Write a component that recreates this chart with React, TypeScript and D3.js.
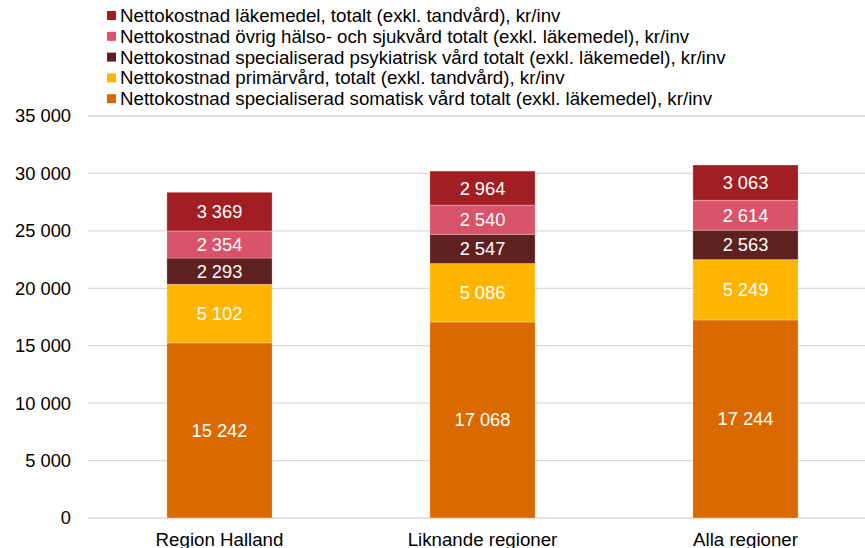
import React from "react";
import * as d3 from "d3";

const categories = ["Region Halland", "Liknande regioner", "Alla regioner"];
const seriesNames = [
  "Nettokostnad specialiserad somatisk vård totalt (exkl. läkemedel), kr/inv",
  "Nettokostnad primärvård, totalt (exkl. tandvård), kr/inv",
  "Nettokostnad specialiserad psykiatrisk vård totalt (exkl. läkemedel), kr/inv",
  "Nettokostnad övrig hälso- och sjukvård totalt (exkl. läkemedel), kr/inv",
  "Nettokostnad läkemedel, totalt (exkl. tandvård), kr/inv",
];
const somatisk = [15242, 17068, 17244];
const primarvard = [5102, 5086, 5249];
const psykiatrisk = [2293, 2547, 2563];
const ovrig = [2354, 2540, 2614];
const lakemedel = [3369, 2964, 3063];
const colors = ["#DA6900", "#FFB500", "#5E2120", "#D9536A", "#A11F22"];
const yTicks = [0, 5000, 10000, 15000, 20000, 25000, 30000, 35000];

const W = 865;
const H = 548;
const margin = { left: 88, right: -12, top: 116, bottom: 30 };

const fmt = (v: number) => {
  const s = String(Math.round(v));
  return s.replace(/\B(?=(\d{3})+(?!\d))/g, " ");
};

export default function App() {
  const seriesValues = [somatisk, primarvard, psykiatrisk, ovrig, lakemedel];
  const rows = categories.map((c, i) => {
    const o: any = { cat: c };
    seriesValues.forEach((s, k) => (o["s" + k] = s[i]));
    return o;
  });
  const keys = seriesValues.map((_, k) => "s" + k);
  const stacked = d3.stack().keys(keys)(rows);

  const x = d3
    .scaleBand()
    .domain(categories)
    .range([margin.left, W - margin.right])
    .paddingInner(0.6)
    .paddingOuter(0.3);
  const y = d3.scaleLinear().domain([0, 35000]).range([518, margin.top]);

  const font = "'Liberation Sans', Arial, sans-serif";
  const legendOrder = [4, 3, 2, 1, 0];

  return (
    <svg
      width={W}
      height={H}
      style={{ position: "absolute", left: 0, top: 0, background: "#fff" }}
      fontFamily={font}
    >
      {yTicks.map((t) => (
        <g key={t}>
          <line x1={margin.left} x2={W} y1={y(t)} y2={y(t)} stroke="#D9D9D9" strokeWidth={1.3} />
          <text x={71} y={y(t)} dy="0.35em" textAnchor="end" fontSize={18.3} fill="#000">
            {fmt(t)}
          </text>
        </g>
      ))}
      {stacked.map((s, k) =>
        s.map((d: any, i: number) => {
          const cat = categories[i];
          const x0 = x(cat)!;
          const y0 = y(d[1]);
          const h = y(d[0]) - y(d[1]);
          return (
            <g key={k + "-" + i}>
              <rect x={x0} y={y0} width={x.bandwidth()} height={h} fill={colors[k]} stroke="#fff" strokeOpacity={0.35} strokeWidth={0.8} />
              <text
                x={x0 + x.bandwidth() / 2}
                y={y0 + h / 2}
                dy="0.35em"
                textAnchor="middle"
                fontSize={18.3}
                fill="#fff"
              >
                {fmt(d[1] - d[0])}
              </text>
            </g>
          );
        })
      )}
      {categories.map((c) => (
        <text key={c} x={x(c)! + x.bandwidth() / 2} y={546} textAnchor="middle" fontSize={18.7} fill="#000">
          {c}
        </text>
      ))}
      {legendOrder.map((k, j) => {
        const ly = 15.5 + j * 20.8;
        return (
          <g key={k}>
            <rect x={107} y={ly - 4.5} width={9} height={9} fill={colors[k]} />
            <text x={120} y={ly} dy="0.35em" fontSize={18.7} fill="#000">
              {seriesNames[k]}
            </text>
          </g>
        );
      })}
    </svg>
  );
}
